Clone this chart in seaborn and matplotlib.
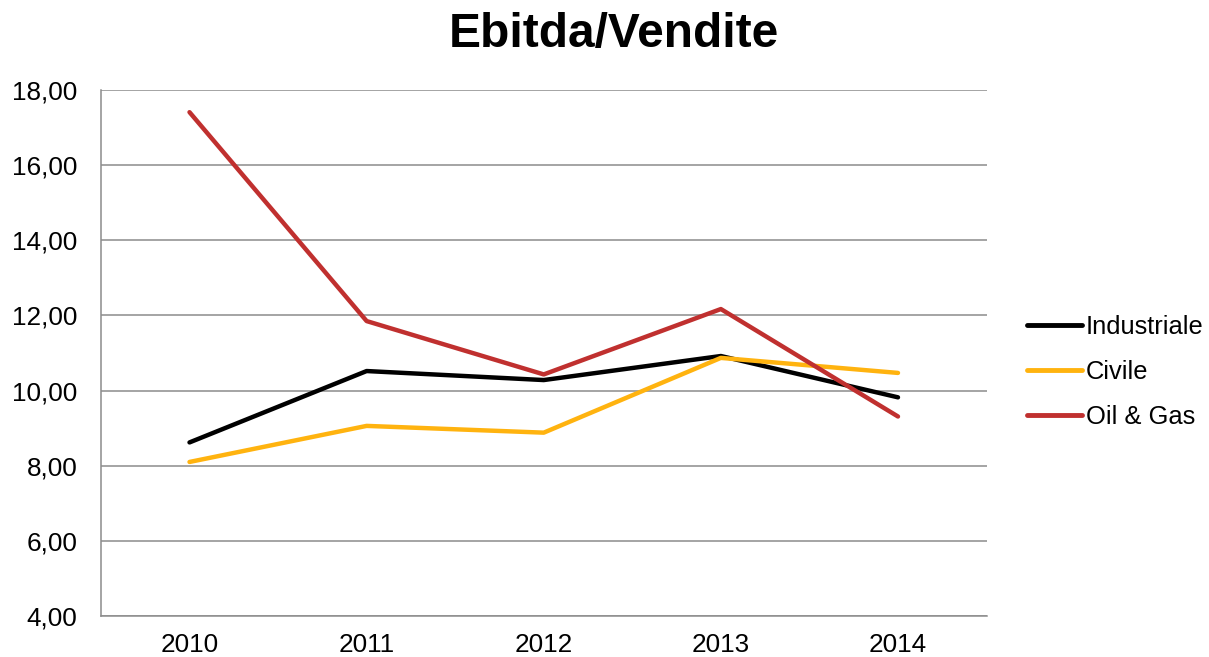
import seaborn as sns
from matplotlib import pyplot as plt
from matplotlib import font_manager
import pandas as pd

years = [2010, 2011, 2012, 2013, 2014]
industriale = [8.62, 10.52, 10.28, 10.92, 9.82]
civile = [8.10, 9.06, 8.88, 10.87, 10.47]
oil_gas = [17.41, 11.85, 10.43, 12.17, 9.31]

series = ["Industriale", "Civile", "Oil & Gas"]
colors = ["#000000", "#FFB30F", "#C0302F"]

data = pd.DataFrame({
    "year": years * 3,
    "value": industriale + civile + oil_gas,
    "serie": [s for s in series for _ in years],
})

# make sure the regular Liberation Sans (not Narrow) gets picked
for f in font_manager.findSystemFonts():
    if "LiberationSans-" in f:
        font_manager.fontManager.addfont(f)

sns.set_style("white")
plt.rcParams["font.family"] = ["Liberation Sans", "DejaVu Sans"]
plt.rcParams["text.color"] = "#000000"

fig = plt.figure(figsize=(12.09, 6.57), dpi=100)
ax = fig.add_axes([0.0835, 0.0624, 0.7325, 0.8006])

sns.lineplot(data=data, x="year", y="value", hue="serie", hue_order=series,
             palette=colors, linewidth=3.2, ax=ax)

ax.set_xlim(2009.5, 2014.5)
ax.set_ylim(4, 18)
ax.set_yticks(range(4, 19, 2))
ax.set_yticklabels([f"{v},00" for v in range(4, 19, 2)])
ax.set_xticks(years)
ax.set_xticklabels([str(y) for y in years])
ax.tick_params(axis="both", labelsize=18.8, colors="#000000", length=0)
ax.tick_params(axis="y", pad=17)
ax.tick_params(axis="x", pad=12)
ax.yaxis.grid(True, color="#8c8c8c", linewidth=1.1)
ax.set_axisbelow(True)
for side in ["top", "right"]:
    ax.spines[side].set_visible(False)
for side in ["left", "bottom"]:
    ax.spines[side].set_color("#8c8c8c")
    ax.spines[side].set_linewidth(1.1)
ax.set_xlabel("")
ax.set_ylabel("")

fig.text(0.508, 0.928, "Ebitda/Vendite", ha="center", va="baseline",
         fontsize=34.5, fontweight="bold", color="#000000")

leg = ax.legend(loc="center left", bbox_to_anchor=(1.02, 0.464), frameon=False,
                fontsize=18.4, handlelength=2.15, handletextpad=0.15,
                labelspacing=0.82)
for line in leg.get_lines():
    line.set_linewidth(3.5)
for t in leg.get_texts():
    t.set_color("#000000")

plt.savefig("out.png", dpi=100)
